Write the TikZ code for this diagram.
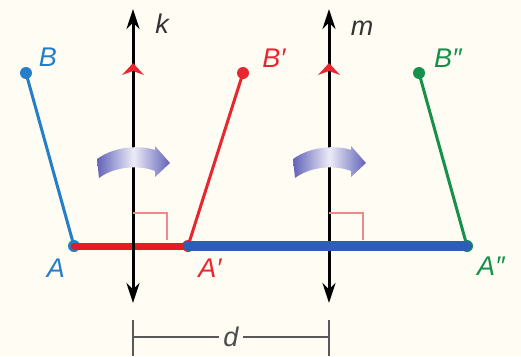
\documentclass[tikz,border=0pt]{standalone}
\usepackage{fontspec}
\setmainfont{Liberation Sans}
\usetikzlibrary{arrows.meta}
\definecolor{ptblue}{RGB}{36,126,200}
\definecolor{ptred}{RGB}{232,38,48}
\definecolor{ptgreen}{RGB}{22,144,74}
\definecolor{turnpurple}{RGB}{98,98,186}
\definecolor{paper}{RGB}{255,252,243}
\definecolor{markblue}{RGB}{44,94,182}
\definecolor{markred}{RGB}{230,28,36}
\tikzset{
  dot/.style={circle, fill, inner sep=0pt, minimum size=12pt},
  lbl/.style={font=\fontsize{27}{31}\selectfont\itshape, inner sep=0pt},
  mirror/.style={line width=3pt, {Stealth[length=20pt,width=13pt]}-{Stealth[length=20pt,width=13pt]}},
  seg/.style={line width=3pt},
  rightangle/.style={draw=ptred!55, line width=1.5pt},
  turn/.style={left color=turnpurple, right color=turnpurple, middle color=turnpurple!12},
}

\begin{document}
\begin{tikzpicture}[x=1pt, y=-1pt]
\useasboundingbox (0,0) rectangle (521,356);
\fill[paper] (0,0) rectangle (521,356);

% lines k and m
\coordinate (ktop) at (133,9);
\coordinate (kbot) at (133,303);
\coordinate (mtop) at (329,9);
\coordinate (mbot) at (329,303);
\node[lbl, text=black!80] (klbl) at (162,24) {k};
\node[lbl, text=black!80] (mlbl) at (362,28) {m};

% points
\node[dot, ptblue] (B) at (26,73) {};
\node[dot, ptblue] (A) at (74,246) {};
\node[dot, ptred] (Bp) at (243,73) {};
\node[dot, ptred] (Ap) at (188,246) {};
\node[dot, ptgreen] (Bpp) at (419,73) {};
\node[dot, ptgreen] (App) at (467,246) {};

\node[lbl, text=ptblue] (Blbl) at (48,57) {B};
\node[lbl, text=ptblue] (Albl) at (56,268) {A};
\node[lbl, text=ptred] (Bplbl) at (274,58) {B′};
\node[lbl, text=ptred] (Aplbl) at (210,268) {A′};
\node[lbl, text=ptgreen] (Bpplbl) at (448,58) {B″};
\node[lbl, text=ptgreen] (Applbl) at (491,266) {A″};

\draw[seg, ptblue] (A.center) -- (B.center);
\draw[seg, ptred] (Ap.center) -- (Bp.center);
\draw[seg, ptgreen] (App.center) -- (Bpp.center);

% marks
\draw[markred, line width=7pt, line cap=round] (A.center) -- (Ap.center);
\draw[mirror] (kbot) -- (ktop);
\draw[mirror] (mbot) -- (mtop);
\draw[markblue, line width=10pt, line cap=round] (Ap.center) -- (App.center);

\foreach \x in {133,329} {
  \fill[ptred] (\x-11,75) -- (\x,63) -- (\x+11,75) -- (\x,71) -- cycle;
  \draw[rightangle] (\x,213) -| (\x+34,240);
  \shade[turn] (\x-36,159) .. controls (\x-18,146) and (\x+7,145) .. (\x+22,150)
    -- (\x+22,146) -- (\x+37,163) -- (\x+22,177) -- (\x+22,171)
    .. controls (\x+7,165) and (\x-18,166) .. (\x-34,178) -- cycle;
}

% distance d
\coordinate (dl) at (133,337);
\coordinate (dr) at (329,337);
\node[lbl, text=black!70] (dlbl) at (231,337) {d};
\draw[black!65, line width=1.5pt] (133,320) -- (133,356);
\draw[black!65, line width=1.5pt] (329,320) -- (329,356);
\draw[black!65, line width=1.5pt] (dl) -- ([xshift=-4pt]dlbl.west);
\draw[black!65, line width=1.5pt] ([xshift=4pt]dlbl.east) -- (dr);
\end{tikzpicture}
\end{document}
